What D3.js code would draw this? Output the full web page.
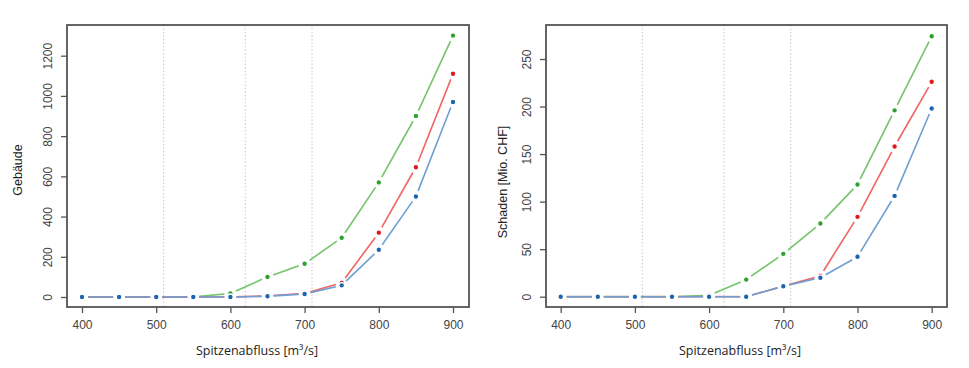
<!DOCTYPE html>
<head>
	<script src="https://d3js.org/d3.v7.min.js"></script>
	<style>
		body { margin: 0; background: #fff; }
		.tick-label { font-family: "Liberation Sans", Arial, sans-serif; font-size: 12px; fill: #444; }
		.axis-title { font-family: "Liberation Sans", Arial, sans-serif; font-size: 12.5px; fill: #222; }
		.x-title { font-family: "Open Sans", "Noto Sans", sans-serif; font-size: 12.5px; fill: #222; }
	</style>
</head>
<body>
	<script>
		// data
		var flows = [400, 450, 500, 550, 600, 650, 700, 750, 800, 850, 900];
		var thresholds = [510, 620, 710];
		var xTicks = [400, 500, 600, 700, 800, 900];

		var buildGreen = [0, 0, 0, 0, 18, 100, 165, 295, 570, 900, 1300];
		var buildRed   = [0, 0, 0, 0, 0, 5, 18, 70, 320, 645, 1110];
		var buildBlue  = [0, 0, 0, 0, 0, 4, 15, 58, 235, 500, 970];
		var buildTicks = [0, 200, 400, 600, 800, 1000, 1200];

		var lossGreen = [0, 0, 0, 0, 1.5, 18, 45, 77, 118, 196, 274];
		var lossRed   = [0, 0, 0, 0, 0, 0, 11, 22, 84, 158, 226];
		var lossBlue  = [0, 0, 0, 0, 0, 0, 11, 20, 42, 106, 198];
		var lossTicks = [0, 50, 100, 150, 200, 250];

		var colors = {
			green: { line: "#74c46a", point: "#2ea02c" },
			red:   { line: "#f06464", point: "#e0191c" },
			blue:  { line: "#6f9fd2", point: "#1c64ad" }
		};

		var svg = d3.select("body")
			.append("svg")
			.attr("width", 969)
			.attr("height", 368);

		function panel(opts) {
			var box = opts.box;
			var x = d3.scaleLinear().domain([400, 900]).range([box.x0, box.x1]);
			var y = d3.scaleLinear().domain([0, opts.yMax]).range([box.y0, box.y1]);
			var g = svg.append("g");

			// dotted vertical markers
			g.selectAll(".thr")
				.data(thresholds)
				.enter()
				.append("line")
				.attr("x1", function(d) { return x(d) })
				.attr("x2", function(d) { return x(d) })
				.attr("y1", box.top)
				.attr("y2", box.bottom)
				.attr("stroke", "#c8c8c8")
				.attr("stroke-width", 1)
				.attr("stroke-dasharray", "1.5,2");

			// series, type "b": segments with gaps round the points
			var gap = 6;
			opts.series.forEach(function(s) {
				var pts = flows.map(function(f, i) { return [x(f), y(s.values[i])] });
				for (var i = 0; i < pts.length - 1; i++) {
					var a = pts[i], b = pts[i + 1];
					var dx = b[0] - a[0], dy = b[1] - a[1];
					var len = Math.sqrt(dx * dx + dy * dy);
					if (len <= 2 * gap) continue;
					var ux = dx / len, uy = dy / len;
					g.append("line")
						.attr("x1", a[0] + ux * gap)
						.attr("y1", a[1] + uy * gap)
						.attr("x2", b[0] - ux * gap)
						.attr("y2", b[1] - uy * gap)
						.attr("stroke", s.color.line)
						.attr("stroke-width", 1.6);
				}
				g.selectAll(null)
					.data(pts)
					.enter()
					.append("circle")
					.attr("cx", function(d) { return d[0] })
					.attr("cy", function(d) { return d[1] })
					.attr("r", 2.8)
					.attr("fill", s.color.point)
					.attr("stroke", "#fff")
					.attr("stroke-width", 1.2);
			});

			// frame
			g.append("rect")
				.attr("x", box.left)
				.attr("y", box.top)
				.attr("width", box.right - box.left)
				.attr("height", box.bottom - box.top)
				.attr("fill", "none")
				.attr("stroke", "#555")
				.attr("stroke-width", 1.8);

			// x axis
			var xAxis = d3.axisBottom(x).tickValues(xTicks).tickSize(6).tickFormat(d3.format("d"));
			var ax = g.append("g")
				.attr("transform", "translate(" + [0, box.bottom] + ")")
				.call(xAxis);
			ax.select(".domain").remove();
			ax.selectAll(".tick line").attr("stroke", "#555").attr("stroke-width", 1.3);
			ax.selectAll(".tick text")
				.attr("class", "tick-label")
				.attr("y", 13)
				.attr("dy", "0.71em");

			// y axis, labels rotated like base R
			var yAxis = d3.axisLeft(y).tickValues(opts.yTicks).tickSize(6).tickFormat(d3.format("d"));
			var ay = g.append("g")
				.attr("transform", "translate(" + [box.left, 0] + ")")
				.call(yAxis);
			ay.select(".domain").remove();
			ay.selectAll(".tick line").attr("stroke", "#555").attr("stroke-width", 1.3);
			ay.selectAll(".tick text")
				.attr("class", "tick-label")
				.attr("x", null)
				.attr("dy", null)
				.attr("transform", "translate(" + (box.labelX - box.left) + ",0) rotate(-90)")
				.attr("text-anchor", "middle")
				.attr("dominant-baseline", "middle");

			// titles
			svg.append("text")
				.text(opts.yTitle)
				.attr("class", "axis-title")
				.attr("text-anchor", "middle")
				.attr("dominant-baseline", "middle")
				.attr("transform", "translate(" + [box.titleX, opts.yTitleY] + ") rotate(-90)");
			svg.append("text")
				.text("Spitzenabfluss [m\u00b3/s]")
				.attr("class", "x-title")
				.attr("text-anchor", "middle")
				.attr("dominant-baseline", "middle")
				.attr("x", opts.xTitleX)
				.attr("y", 352);
		}

		panel({
			box: { left: 67, right: 469, top: 25, bottom: 307, x0: 82, x1: 453, y0: 297, y1: 55.7, labelX: 49, titleX: 19 },
			yMax: 1200,
			yTicks: buildTicks,
			yTitle: "Geb\u00e4ude",
			yTitleY: 170,
			xTitleX: 257,
			series: [
				{ values: buildGreen, color: colors.green },
				{ values: buildRed, color: colors.red },
				{ values: buildBlue, color: colors.blue }
			]
		});

		panel({
			box: { left: 546, right: 947, top: 25, bottom: 307, x0: 560.7, x1: 931.7, y0: 296.7, y1: 59, labelX: 528, titleX: 504 },
			yMax: 250,
			yTicks: lossTicks,
			yTitle: "Schaden [Mio. CHF]",
			yTitleY: 182,
			xTitleX: 740,
			series: [
				{ values: lossGreen, color: colors.green },
				{ values: lossRed, color: colors.red },
				{ values: lossBlue, color: colors.blue }
			]
		});
	</script>
</body>
</html>
